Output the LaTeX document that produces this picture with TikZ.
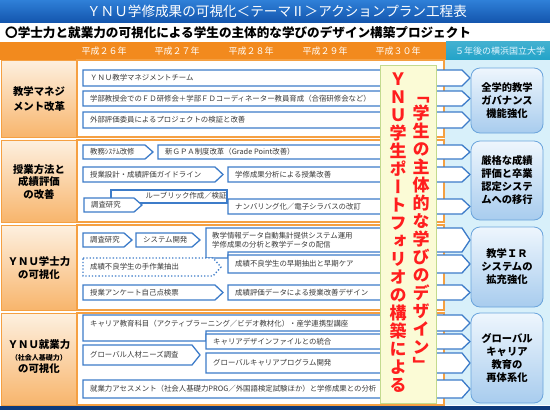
\documentclass[tikz,border=0pt]{standalone}
\usepackage{fontspec}
\setmainfont{Noto Sans CJK JP}
\newfontfamily\vertfont[RawFeature=+vert]{Noto Sans CJK JP}
\definecolor{tblueA}{HTML}{2F80D8}
\definecolor{tblueB}{HTML}{1456AE}
\definecolor{hdorange}{HTML}{F28A1E}
\definecolor{hdteal}{HTML}{22A3C8}
\definecolor{tealtxt}{HTML}{E2F5FF}
\definecolor{roworange}{HTML}{F5A042}
\definecolor{cellA}{HTML}{FDF0E0}
\definecolor{cellB}{HTML}{F8B56C}
\definecolor{barblue}{HTML}{3D7CC9}
\definecolor{txtgray}{HTML}{3A3A3A}
\definecolor{rightbg}{HTML}{D8F0FA}
\definecolor{rboxA}{HTML}{EEF6FD}
\definecolor{rboxB}{HTML}{A8CCEE}
\definecolor{rboxline}{HTML}{6AA4DC}
\definecolor{yfill}{HTML}{FBFBD6}
\definecolor{yline}{HTML}{C3DA8E}
\definecolor{redtxt}{HTML}{FF1E1E}
\definecolor{navy}{HTML}{0E3B7C}
\newcommand\abar[7][]{%
  \draw[barline,#1] (#3,#4) -- ({#5-8},#4) -- (#5,{(#4+#6)/2}) -- ({#5-8},#6) -- (#3,#6) -- cycle;
  \node[bartext] (#2) at ({#3+7},{(#4+#6)/2}) {#7};
}
\begin{document}
\begin{tikzpicture}[x=1pt,y=-1pt,
  barline/.style={draw=barblue,line width=1.3pt,fill=white,line join=miter},
  bartext/.style={anchor=west,inner sep=0pt,text=txtgray,font=\fontsize{7.4}{9}\selectfont},
  rowbox/.style={draw=roworange,line width=1.2pt,fill=white},
  leftcell/.style={draw=roworange,line width=0.8pt,top color=cellA,bottom color=cellB},
  lefttext/.style={align=center,inner sep=0pt,font=\bfseries\fontsize{10.4}{13}\selectfont},
  rightbox/.style={draw=rboxline,line width=0.8pt,rounded corners=9pt,top color=rboxA,bottom color=rboxB,
    minimum width=72pt,align=center,inner sep=0pt,font=\bfseries\fontsize{10.3}{13}\selectfont},
  yeartext/.style={text=white,inner sep=0pt,font=\fontsize{9}{10}\selectfont},
  redv/.style={text=redtxt,align=center,inner sep=0pt,font=\vertfont\bfseries\fontsize{17}{18}\selectfont}
]
\useasboundingbox (0,0) rectangle (550,410);
\fill[white] (0,0) rectangle (550,410);
% title
\path[top color=tblueA,bottom color=tblueB] (0,0) rectangle (550,22);
\node[text=white,inner sep=0pt,font=\fontsize{13.6}{15}\selectfont] (title) at (277,11) {ＹＮＵ学修成果の可視化＜テーマⅡ＞アクションプラン工程表};
\node[anchor=west,inner sep=0pt,font=\bfseries\fontsize{12.6}{14}\selectfont] (sub) at (5,32.5) {〇学士力と就業力の可視化による学生の主体的な学びのデザイン構築プロジェクト};
% header
\fill[hdorange] (0,41.5) rectangle (446,60);
\path[top color=hdteal!85!white,bottom color=hdteal] (446,41.5) rectangle (550,60);
\node[yeartext] (y26) at (104,51) {平成２６年};
\node[yeartext] (y27) at (177,51) {平成２７年};
\node[yeartext] (y28) at (251,51) {平成２８年};
\node[yeartext] (y29) at (325,51) {平成２９年};
\node[yeartext] (y30) at (398,51) {平成３０年};
\node[yeartext,text=tealtxt] (y5) at (500,51) {５年後の横浜国立大学};
% right background
\fill[rightbg] (444,60) rectangle (550,405);
% rows
\path[leftcell] (1,60) rectangle (76,137);
\path[leftcell] (1,140) rectangle (76,222);
\path[leftcell] (1,225) rectangle (76,310);
\path[leftcell] (1,313) rectangle (76,405);
\path[rowbox] (77,60) rectangle (444,137);
\path[rowbox] (77,140) rectangle (444,222);
\path[rowbox] (77,225) rectangle (444,310);
\path[rowbox] (77,313) rectangle (444,405);
\node[lefttext,font=\bfseries\fontsize{10.4}{15.7}\selectfont] (L1) at (39,99) {教学マネジ\\メント改革};
\node[lefttext,font=\bfseries\fontsize{10.4}{12.5}\selectfont] (L2) at (39,182) {授業方法と\\成績評価\\の改善};
\node[lefttext] (L3) at (39,268.5) {ＹＮＵ学士力\\の可視化};
\node[lefttext,align=center] (L4) at (39,357) {ＹＮＵ就業力\\[-1pt]{\fontsize{7}{9}\selectfont （社会人基礎力）}\\[-1pt]の可視化};
% row 1
\abar{a11}{83}{70}{470}{86}{ＹＮＵ教学マネジメントチーム}
\abar{a12}{83}{91}{470}{106}{学部教授会でのＦＤ研修会＋学部ＦＤコーディネーター教員育成（合宿研修会など）}
\abar{a13}{83}{112}{470}{128}{外部評価委員によるプロジェクトの検証と改善}
% row 2
\draw[barline] (111,190) rectangle (227,203);
\node[bartext,anchor=center] (rub) at (186,196) {ルーブリック作成／検証};
\abar{a21}{83}{145}{153}{159}{教務ｼｽﾃﾑ改修}
\abar{a22}{158}{145}{470}{159}{新ＧＰＡ制度改革（Grade Point改善）}
\abar{a23}{83}{167}{223}{182}{授業設計・成績評価ガイドライン}
\abar{a24}{228}{167}{470}{182}{学修成果分析による授業改善}
\abar{a25}{84}{198}{142}{212}{調査研究}
\abar{a26}{228}{199}{470}{214}{ナンバリング化／電子シラバスの改訂}
% row 3
\abar{a31}{83}{233}{132}{247}{調査研究}
\abar{a32}{136}{233}{200}{247}{システム開発}
\draw[barline] (206,228) -- (462,228) -- (470,240) -- (462,252) -- (228,252) -- (228,258) -- (206,258) -- cycle;
\node[bartext,align=left,font=\fontsize{7.4}{9}\selectfont] (a33) at (212,240) {教学情報データ自動集計提供システム運用\\学修成果の分析と教学データの配信};
\abar[dotted,line width=1.4pt]{a34}{83}{258}{221}{276}{成績不良学生の手作業抽出}
\abar{a35}{228}{255}{470}{273}{成績不良学生の早期抽出と早期ケア}
\abar{a36}{83}{285}{223}{300}{授業アンケート自己点検票}
\abar{a37}{228}{285}{470}{300}{成績評価データによる授業改善デザイン}
% row 4
\draw[barline] (83,315) -- (462,315) -- (470,323) -- (462,331) -- (206,331) -- (206,341) -- (83,341) -- cycle;
\node[bartext] (a41) at (90,324) {キャリア教育科目（アクティブラーニング／ビデオ教材化）・産学連携型講座};
\abar{a42}{206}{334}{470}{349}{キャリアデザインファイルとの統合}
\abar{a43}{83}{345}{200}{365}{グローバル人材ニーズ調査}
\abar{a44}{206}{353}{470}{373}{グローバルキャリアプログラム開発}
\abar{a45}{83}{380}{470}{398}{就業力アセスメント（社会人基礎力PROG／外国語検定試験ほか）と学修成果との分析}
% right boxes
\node[rightbox,minimum height=65pt] (R1) at (507,100.5) {全学的教学\\ガバナンス\\機能強化};
\node[rightbox,minimum height=79pt] (R2) at (507,180.5) {厳格な成績\\評価と卒業\\認定システ\\ムへの移行};
\node[rightbox,minimum height=80pt] (R3) at (507,267) {教学ＩＲ\\システムの\\拡充強化};
\node[rightbox,minimum height=90pt] (R4) at (507,358) {グローバル\\キャリア\\教育の\\再体系化};
% vertical box
\node[draw=yline,line width=1pt,fill=yfill,minimum width=56pt,minimum height=338pt,inner sep=0pt] (vbox) at (408,234) {};
\node[redv] (vl) at (398,233) {Ｙ\\Ｎ\\Ｕ\\学\\生\\ポ\\ー\\ト\\フ\\ォ\\リ\\オ\\の\\構\\築\\に\\よ\\る};
\node[redv] (vr) at (421,234) {「\\学\\生\\の\\主\\体\\的\\な\\学\\び\\の\\デ\\ザ\\イ\\ン\\」};
% bottom strip
\fill[navy] (0,405.5) rectangle (550,410);
\end{tikzpicture}
\end{document}
